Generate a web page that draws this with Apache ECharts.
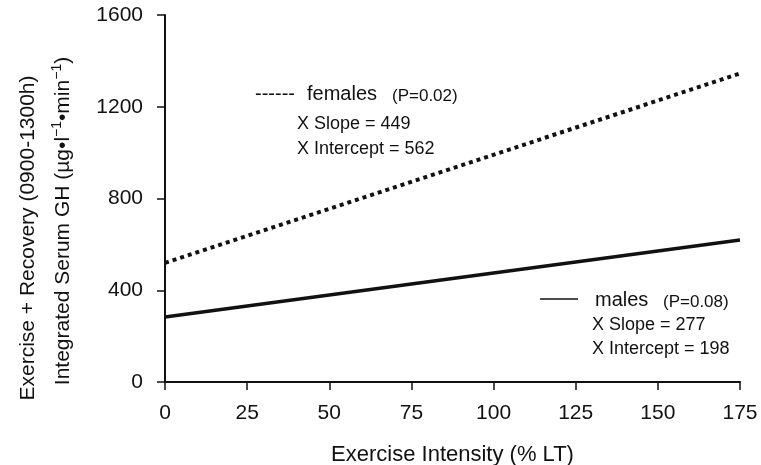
<!DOCTYPE html>
<html><head><meta charset="utf-8">
<script src="https://cdn.jsdelivr.net/npm/echarts@6/dist/echarts.min.js"></script>
<style>html,body{margin:0;padding:0;background:#fff}#c{width:761px;height:465px}</style>
</head><body><div id="c"></div>
<script>
const xValues = [0, 175];
const females = [519, 1345];
const males = [283, 619];
const xTicks = [0, 25, 50, 75, 100, 125, 150, 175];
const yTicks = [0, 400, 800, 1200, 1600];
const xTitle = 'Exercise Intensity (% LT)';
const yTitle1 = 'Exercise + Recovery (0900-1300h)';
const femNote = ['females', '(P=0.02)', 'X Slope = 449', 'X Intercept = 562'];
const maleNote = ['males', '(P=0.08)', 'X Slope = 277', 'X Intercept = 198'];

const F = 'Liberation Sans, Arial, Helvetica, sans-serif';
const chart = echarts.init(document.getElementById('c'));
const axisCommon = {
  axisLine: {show: true, lineStyle: {color: '#111', width: 2}},
  axisTick: {show: true, inside: false, length: 8, lineStyle: {color: '#111', width: 1.5}},
  splitLine: {show: false}
};
chart.setOption({
  animation: false,
  backgroundColor: '#fff',
  grid: {left: 165, right: 21, top: 15, bottom: 83, containLabel: false, outerBoundsMode: 'none'},
  xAxis: Object.assign({type: 'value', min: xTicks[0], max: xTicks[xTicks.length-1], interval: 25,
    name: xTitle, nameLocation: 'middle', nameGap: 62,
    nameTextStyle: {color: '#111', fontFamily: F, fontSize: 22}}, axisCommon,
    {axisLabel: {color: '#111', fontFamily: F, fontSize: 21, margin: 21, formatter: v => String(v)}}),
  yAxis: Object.assign({type: 'value', min: yTicks[0], max: yTicks[yTicks.length-1], interval: 400}, axisCommon,
    {axisLabel: {color: '#111', fontFamily: F, fontSize: 21, margin: 22, formatter: v => String(v)}}),
  series: [
    {type: 'line', data: xValues.map((x,i)=>[x, females[i]]), symbol: 'none',
     lineStyle: {color: '#111', width: 4, type: [4, 4]}},
    {type: 'line', data: xValues.map((x,i)=>[x, males[i]]), symbol: 'none',
     lineStyle: {color: '#111', width: 3.5}}
  ],
  graphic: [
    {type: 'text', x: 28, y: 238, rotation: Math.PI/2, style: {text: yTitle1, font: '21px ' + F, fill: '#111', align: 'center', verticalAlign: 'middle'}},
    {type: 'text', x: 63, y: 221, rotation: Math.PI/2, style: {
      text: 'Integrated Serum GH (µg•l{s|−1}•min{s|−1})',
      font: '21px ' + F, fill: '#111', align: 'center', verticalAlign: 'middle',
      rich: {s: {fontSize: 14, fontFamily: F, verticalAlign: 'top', lineHeight: 25}}}},
    {type: 'text', x: 255, y: 94, style: {text: '------', font: '20px ' + F, fill: '#111', verticalAlign: 'middle'}},
    {type: 'text', x: 307, y: 94, style: {text: femNote[0], font: '20px ' + F, fill: '#111', verticalAlign: 'middle'}},
    {type: 'text', x: 392, y: 96, style: {text: femNote[1], font: '17px ' + F, fill: '#111', verticalAlign: 'middle'}},
    {type: 'text', x: 297, y: 124, style: {text: femNote[2], font: '18px ' + F, fill: '#111', verticalAlign: 'middle'}},
    {type: 'text', x: 297, y: 149, style: {text: femNote[3], font: '18px ' + F, fill: '#111', verticalAlign: 'middle'}},
    {type: 'line', shape: {x1: 540, y1: 299, x2: 578, y2: 299}, style: {stroke: '#111', lineWidth: 1.5}},
    {type: 'text', x: 595, y: 300, style: {text: maleNote[0], font: '20px ' + F, fill: '#111', verticalAlign: 'middle'}},
    {type: 'text', x: 663, y: 302, style: {text: maleNote[1], font: '17px ' + F, fill: '#111', verticalAlign: 'middle'}},
    {type: 'text', x: 592, y: 325, style: {text: maleNote[2], font: '18px ' + F, fill: '#111', verticalAlign: 'middle'}},
    {type: 'text', x: 592, y: 349, style: {text: maleNote[3], font: '18px ' + F, fill: '#111', verticalAlign: 'middle'}}
  ]
});
</script></body></html>
